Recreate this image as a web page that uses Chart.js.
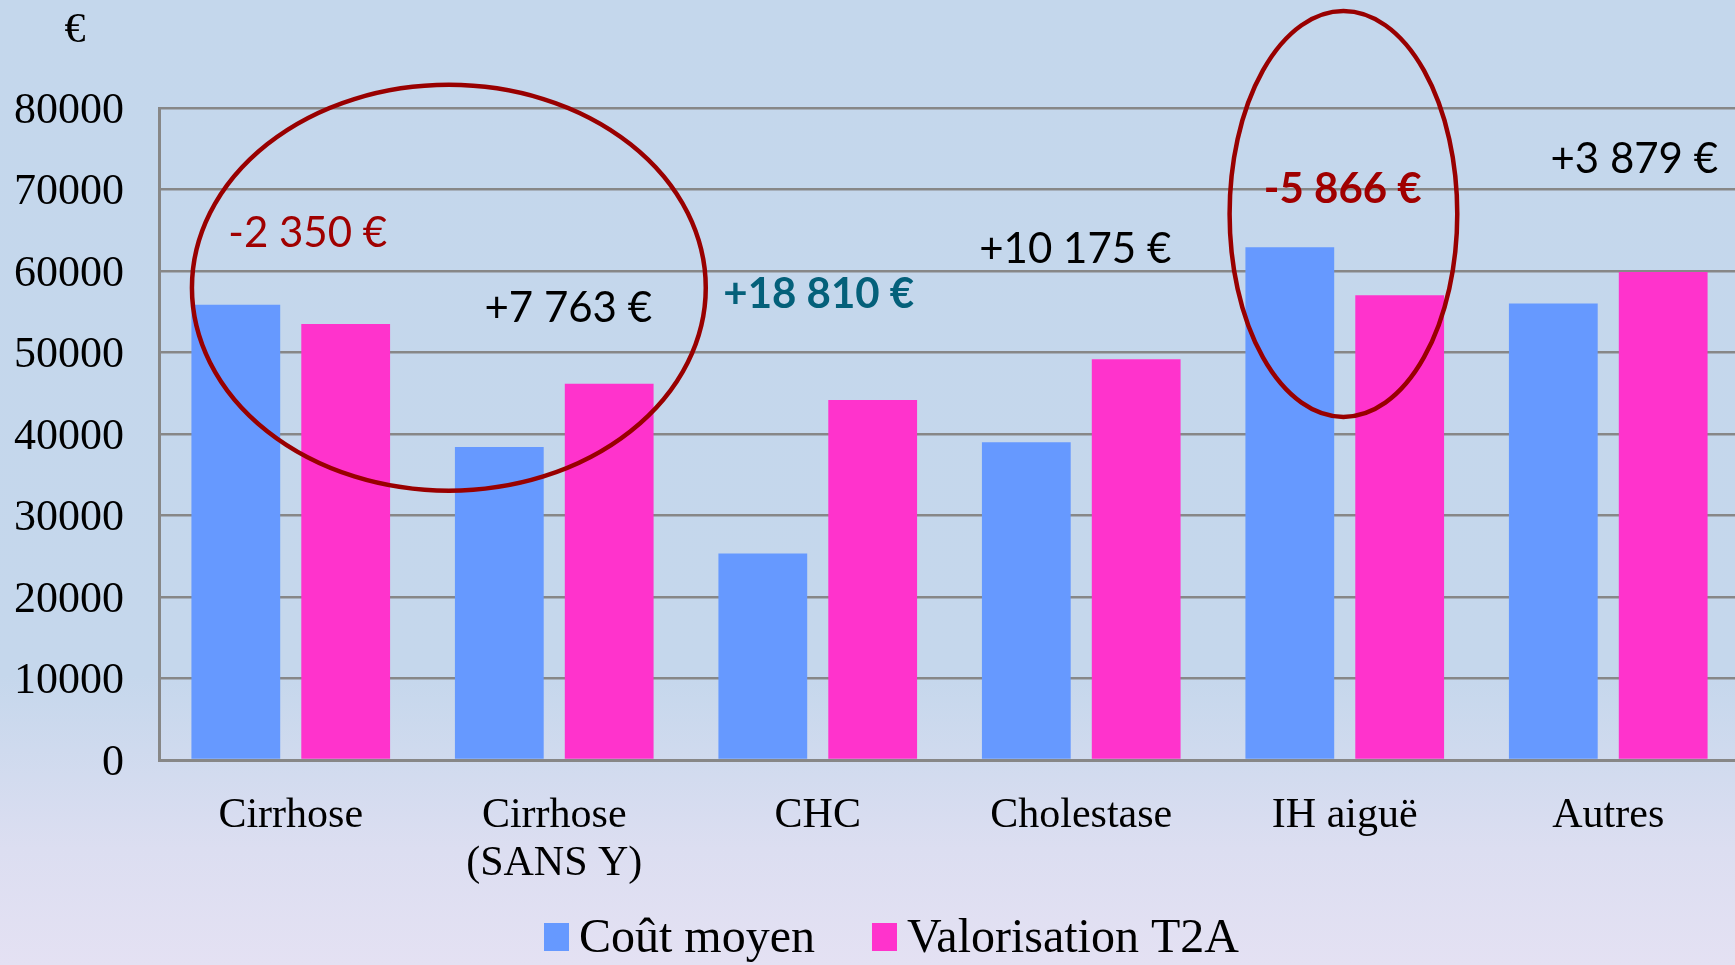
<!DOCTYPE html>
<html>
<head>
<meta charset="utf-8">
<script src="https://cdn.jsdelivr.net/npm/chart.js@4.4.0/dist/chart.umd.min.js"></script>
<style>
  html, body { margin: 0; padding: 0; }
  body {
    width: 1735px; height: 965px; overflow: hidden;
    background: linear-gradient(to bottom, #C4D7EC 0%, #C5D7EC 70%, #DCDEF1 88%, #E4E1F3 100%);
  }
  #wrap { position: relative; width: 1735px; height: 965px; overflow: hidden; }
  canvas { display: block; }
</style>
</head>
<body>
<div id="wrap"><canvas id="barChart" width="1740" height="965"></canvas></div>
<script>
// chart data
const categories = ['Cirrhose', ['Cirrhose', '(SANS Y)'], 'CHC', 'Cholestase', 'IH aiguë', 'Autres'];
const coutMoyen = [55850, 38400, 25350, 39000, 62900, 56000];
const valorisationT2A = [53500, 46163, 44160, 49175, 57034, 59879];
const yTicks = [0, 10000, 20000, 30000, 40000, 50000, 60000, 70000, 80000];

// difference labels (T2A - cost), formatted like "+7 763 €"
const fmtDiff = (d) => (d > 0 ? '+' : '-') + Math.abs(d).toString().replace(/\B(?=(\d{3})+(?!\d))/g, ' ') + ' €';

const serif = '"Liberation Serif", "Times New Roman", serif';
const sans = 'Lato, "Open Sans", sans-serif';

// where each difference label sits: category offset (px) and height (axis value)
const diffStyle = [
    { dx: 17, at: 64550, color: '#A00000', bold: false },
    { dx: 14, at: 55400, color: '#000000', bold: false },
    { dx: 1, at: 57150, color: '#04607A', bold: true },
    { dx: -6, at: 62650, color: '#000000', bold: false },
    { dx: -2, at: 70000, color: '#A00000', bold: true },
    { dx: 26, at: 73700, color: '#000000', bold: false }
];
// circled areas: centre in category index / axis value, radii in category units / axis units
const circles = [
    { cx: 0.6, cy: 57940, rx: 0.975, ry: 24900 },
    { cx: 3.995, cy: 67000, rx: 0.432, ry: 24900 }
];

const annotations = {
    id: 'annotations',
    afterDatasetsDraw(chart) {
        const ctx = chart.ctx;
        const x = chart.scales.x;
        const y = chart.scales.y;
        const catW = x.getPixelForValue(1) - x.getPixelForValue(0);

        ctx.save();
        ctx.textAlign = 'center';
        ctx.textBaseline = 'middle';

        diffStyle.forEach((s, i) => {
            const d = valorisationT2A[i] - coutMoyen[i];
            ctx.font = (s.bold ? 'bold ' : '') + '42px ' + sans;
            ctx.fillStyle = s.color;
            ctx.fillText(fmtDiff(d), x.getPixelForValue(i) + s.dx, y.getPixelForValue(s.at));
        });

        ctx.strokeStyle = '#990000';
        ctx.lineWidth = 4.5;
        circles.forEach(c => {
            const cx = x.getPixelForValue(0) + c.cx * catW;
            const cy = y.getPixelForValue(c.cy);
            const ry = y.getPixelForValue(0) - y.getPixelForValue(c.ry);
            ctx.beginPath();
            ctx.ellipse(cx, cy, c.rx * catW, ry, 0, 0, Math.PI * 2);
            ctx.stroke();
        });

        // unit above the value axis
        ctx.font = '42px ' + serif;
        ctx.fillStyle = '#000000';
        ctx.fillText('€', 75, 31);

        // legend, from the datasets
        ctx.textAlign = 'left';
        ctx.font = '48px ' + serif;
        let lx = 544;
        const ly = 937;
        chart.data.datasets.forEach(ds => {
            ctx.fillStyle = ds.backgroundColor;
            ctx.fillRect(lx, ly - 14, 25, 28);
            ctx.fillStyle = '#000000';
            ctx.fillText(ds.label, lx + 35, ly + 2);
            lx += 35 + ctx.measureText(ds.label).width + 57;
        });
        ctx.restore();
    }
};

new Chart(document.getElementById('barChart'), {
    type: 'bar',
    data: {
        labels: categories,
        datasets: [
            { label: 'Coût moyen', data: coutMoyen, backgroundColor: '#6699FF' },
            { label: 'Valorisation T2A', data: valorisationT2A, backgroundColor: '#FF33CC' }
        ]
    },
    options: {
        responsive: false,
        animation: false,
        devicePixelRatio: 1,
        categoryPercentage: 0.834,
        barPercentage: 0.808,
        layout: { padding: { top: 108, right: 0, bottom: 0, left: 0 } },
        plugins: {
            tooltip: { enabled: false },
            legend: { display: false }
        },
        scales: {
            x: {
                grid: { display: false, drawTicks: false },
                border: { color: '#878787', width: 3 },
                ticks: {
                    color: '#000000',
                    font: { family: serif, size: 42, lineHeight: 1.15 },
                    padding: 32,
                    maxRotation: 0,
                    autoSkip: false
                },
                afterFit(scale) { scale.height = 205; }
            },
            y: {
                min: 0,
                max: 80000,
                afterBuildTicks(scale) { scale.ticks = yTicks.map(v => ({ value: v })); },
                grid: { color: '#878787', lineWidth: 2.5, drawTicks: false },
                border: { color: '#878787', width: 3 },
                ticks: {
                    color: '#000000',
                    font: { family: serif, size: 44 },
                    padding: 35,
                    labelOffset: 3,
                    callback: (v) => String(v)
                },
                afterFit(scale) { scale.width = 159; }
            }
        }
    },
    plugins: [annotations]
});
</script>
</body>
</html>
